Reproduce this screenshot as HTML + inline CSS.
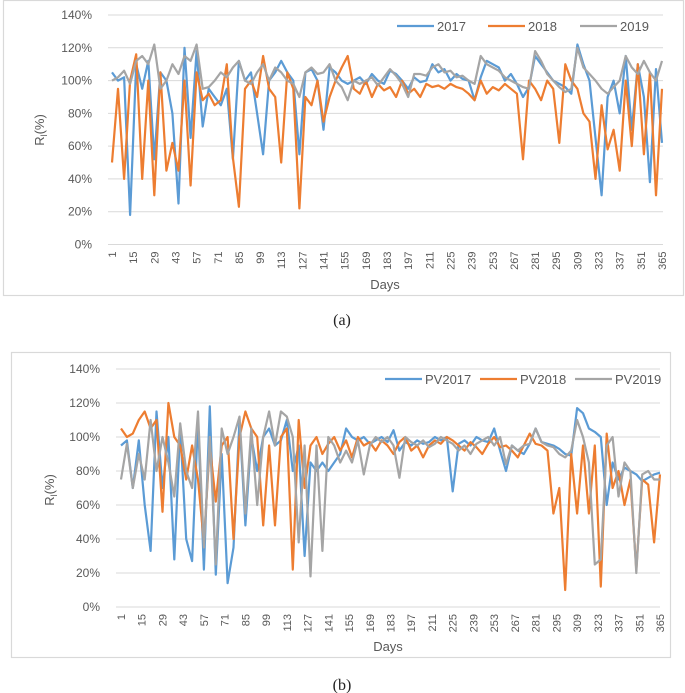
<!DOCTYPE html>
<html><head><meta charset="utf-8"><style>
body{margin:0;background:#fff}
svg{display:block;font-family:"Liberation Sans",sans-serif}
</style></head><body>
<svg id="s" width="685" height="693" xmlns="http://www.w3.org/2000/svg"></svg>
<script>
const dayTicks=[1,15,29,43,57,71,85,99,113,127,141,155,169,183,197,211,225,239,253,267,281,295,309,323,337,351,365];
const yTicks=[0,20,40,60,80,100,120,140];
const namesA=["2017","2018","2019"];
const namesB=["PV2017","PV2018","PV2019"];
const a2017=[105,100,102,18,110,95,112,52,105,100,80,25,120,65,118,72,95,90,85,95,52,112,100,105,80,55,100,105,112,105,100,55,105,107,100,70,108,105,100,98,100,102,98,104,100,98,106,104,100,95,102,99,100,110,105,107,100,104,101,100,88,102,112,110,108,100,104,98,90,96,115,110,105,100,98,96,92,122,110,100,65,30,90,100,80,115,70,110,90,38,107,62];
const a2018=[50,95,40,100,116,40,100,30,105,45,62,45,100,36,105,88,92,85,88,110,53,23,95,100,90,115,95,90,50,105,95,22,90,85,100,75,90,100,108,115,95,92,100,90,98,94,96,90,100,92,95,90,98,96,97,95,98,96,95,92,88,100,92,96,94,98,95,92,52,100,95,88,100,95,62,110,100,95,80,75,40,85,58,70,45,100,60,110,55,105,30,95];
const a2019=[100,102,106,98,112,115,110,122,95,100,110,104,115,112,122,95,96,100,105,102,108,112,100,98,105,110,100,108,105,100,98,90,105,108,104,105,110,100,96,88,100,98,100,102,97,102,107,103,98,90,104,104,103,108,110,105,106,102,103,100,98,115,110,108,106,102,100,98,96,95,118,112,104,100,96,93,95,120,108,104,100,95,92,96,100,115,108,104,112,105,100,112];
const b2017=[95,98,70,98,60,33,115,70,100,28,105,40,27,110,22,118,19,90,14,35,110,48,100,80,100,105,95,98,110,80,95,30,85,80,85,80,85,90,105,100,98,100,96,98,100,97,104,92,97,95,98,96,97,100,98,100,68,96,98,95,100,98,97,105,92,80,95,92,90,96,105,97,96,95,93,90,89,117,114,105,103,100,60,85,75,82,80,78,74,76,78,79];
const b2018=[105,100,102,110,115,105,110,56,120,100,95,75,95,75,38,95,62,95,100,40,100,115,105,100,48,95,48,100,105,22,110,70,95,100,90,96,100,92,98,88,100,95,97,92,98,95,90,97,100,92,95,88,95,98,96,100,98,95,92,97,94,90,96,100,94,95,92,88,95,102,96,95,92,55,70,10,90,55,95,55,95,12,102,70,80,60,75,22,75,72,38,78];
const b2019=[75,96,70,90,75,110,80,100,85,65,108,80,70,115,35,100,25,105,90,100,112,55,105,60,100,115,95,115,112,100,38,95,18,95,33,100,95,85,92,85,98,78,95,100,97,100,95,76,100,97,95,98,94,96,100,98,96,92,95,90,96,98,100,95,100,84,95,92,95,96,105,97,95,94,90,88,92,110,100,85,25,28,95,100,65,85,80,20,78,80,75,75];
const colors=["#5b9bd5","#ed7d31","#a5a5a5"];
const NS="http://www.w3.org/2000/svg";
const svg=document.getElementById('s');
function mk(tag,attrs,parent,text){const e=document.createElementNS(NS,tag);for(const k in attrs)e.setAttribute(k,attrs[k]);if(text!==undefined)e.textContent=text;(parent||svg).appendChild(e);return e;}
function chart(cfg,series,names,id){
  const g=mk('g',{});
  
  
  const box=mk('rect',{x:cfg.bx,y:cfg.by,width:cfg.bw,height:cfg.bh,fill:'#fff',stroke:'#d9d9d9','stroke-width':1.2},g);
  
  
  const yS=v=>cfg.y0-(v/140)*(cfg.y0-cfg.y140);
  const xS=d=>cfg.x1+(d-1)/364*(cfg.x365-cfg.x1);
  yTicks.forEach(t=>{
    const l=mk('line',{x1:cfg.gx0,x2:cfg.gx1,y1:yS(t),y2:yS(t),stroke:'#d9d9d9','stroke-width':1},g);
    
    
    const tx=mk('text',{x:cfg.ylx,y:yS(t)+4,'text-anchor':'end','font-size':12,fill:'#595959'},g,t+'%');
    
    
  });
  dayTicks.forEach(d=>{
    const x=xS(d);
    const tx=mk('text',{x:0,y:0,'text-anchor':'end','font-size':11,fill:'#595959',transform:`translate(${x+4},${cfg.y0+7}) rotate(-90)`},g,String(d));
    
    
  });
  series.forEach((arr,si)=>{
    const n=arr.length;
    const pts=arr.map((v,i)=>xS(1+i*364/(n-1)).toFixed(1)+','+yS(v).toFixed(1)).join(' ');
    const p=mk('polyline',{points:pts,fill:'none',stroke:colors[si],'stroke-width':2.2,'stroke-linejoin':'round'},g);
    
    
  });
  names.forEach((nm,i)=>{
    const lg=mk('g',{},g);
    
    
    mk('line',{x1:cfg.leg[i][0],x2:cfg.leg[i][0]+37,y1:cfg.ly,y2:cfg.ly,stroke:colors[i],'stroke-width':2.2},lg);
    mk('text',{x:cfg.leg[i][0]+40,y:cfg.ly+5,'font-size':13,fill:'#595959'},lg,nm);
  });
  const yt=mk('text',{x:0,y:0,'text-anchor':'middle','font-size':13,fill:'#595959',transform:`translate(${cfg.ytx},${cfg.tyy}) rotate(-90)`},g);
  yt.innerHTML='R<tspan font-size="9" dy="3">l</tspan><tspan dy="-3">(%)</tspan>';
  
  
  const xt=mk('text',{x:cfg.dx,y:cfg.dy,'text-anchor':'middle','font-size':13,fill:'#595959'},g,'Days');
  
  
  const cap=mk('text',{x:342,y:cfg.capy,'text-anchor':'middle','font-size':16,fill:'#222','font-family':'"Liberation Serif",serif'},g,cfg.cap);
  
  
}
chart({bx:3.5,by:0.5,bw:680,bh:295,y0:244.5,y140:15,x1:112,x365:662,gx0:108,gx1:663,ylx:92,ytx:44,tyy:130,dx:385,dy:289,ly:26,leg:[[397,0],[488,0],[580,0]],capy:325,cap:'(a)'},[a2017,a2018,a2019],namesA,'a');
chart({bx:11.5,by:352.5,bw:659,bh:305,y0:607,y140:369,x1:121,x365:660,gx0:116,gx1:660,ylx:100,ytx:54,tyy:490,dx:388,dy:651,ly:379,leg:[[385,0],[480,0],[575,0]],capy:690,cap:'(b)'},[b2017,b2018,b2019],namesB,'b');
</script>
</body></html>
